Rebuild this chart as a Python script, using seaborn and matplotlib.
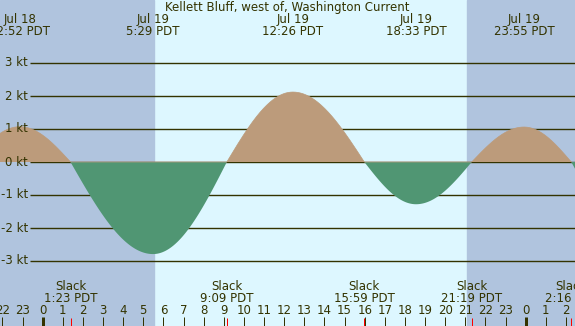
import numpy as np
import pandas as pd
import matplotlib
matplotlib.use("Agg")
import matplotlib.pyplot as plt
import seaborn as sns

# events (hours from Jul 19 00:00 PDT), values in knots
# first and last entries lie outside the visible window, only for drawing the curve ends
event_hours = [-3.6, -1.133, 1.383, 5.483, 9.15, 12.433, 15.983, 18.55, 21.317, 23.917, 26.267, 29.8]
event_kt = [0.0, 1.07, 0.0, -2.79, 0.0, 2.12, 0.0, -1.28, 0.0, 1.06, 0.0, -2.5]

# labelled maxima at the top
max_hours = [-1.133, 5.483, 12.433, 18.55, 23.917]
max_dates = ["Jul 18", "Jul 19", "Jul 19", "Jul 19", "Jul 19"]
max_times = ["22:52 PDT", "5:29 PDT", "12:26 PDT", "18:33 PDT", "23:55 PDT"]

# slack labels at the bottom
slack_hours = [1.383, 9.15, 15.983, 21.317, 26.267]
slack_times = ["1:23 PDT", "9:09 PDT", "15:59 PDT", "21:19 PDT", "2:16 PDT"]

sunrise = 5.52
sunset = 21.07
kt_levels = [3, 2, 1, 0, -1, -2, -3]
title = "Kellett Bluff, west of, Washington Current"

NIGHT = "#b0c4de"
DAY = "#ddf7ff"
FLOOD = "#bc9b7b"
EBB = "#509673"
INK = "#333300"

X0, X1 = -2.12, 26.45
def py(ypx):
    # pixel row -> knots (0 kt at row 162, 33 px per knot)
    return (162 - ypx) / 33.0

# smooth curve between events: quarter sine from slack to max and back
t_list, v_list = [], []
for i in range(len(event_hours) - 1):
    ta, tb = event_hours[i], event_hours[i + 1]
    va, vb = event_kt[i], event_kt[i + 1]
    s = np.linspace(0, 1, 80)
    if va == 0:
        v = vb * np.sin(np.pi / 2 * s)
    else:
        v = va * np.cos(np.pi / 2 * s)
    t_list.append(ta + (tb - ta) * s)
    v_list.append(v)
curve = pd.DataFrame({"hour": np.concatenate(t_list), "kt": np.concatenate(v_list)})

fig = plt.figure(figsize=(5.75, 3.26), dpi=100)
ax = fig.add_axes([0, 0, 1, 1])
ax.set_xlim(X0, X1)
ax.set_ylim(py(326), py(0))
ax.axis("off")

ax.axvspan(X0, X1, color=DAY, zorder=0)
ax.axvspan(X0, sunrise, color=NIGHT, zorder=0.5)
ax.axvspan(sunset, X1, color=NIGHT, zorder=0.5)

# grid lines under the fill
for k in kt_levels:
    ax.hlines(k, -0.62, X1, color=INK, lw=1.0, zorder=1)

h = curve["hour"].values
v = curve["kt"].values
ax.fill_between(h, v, 0, where=v >= 0, interpolate=True, color=FLOOD, lw=0, zorder=2)
ax.fill_between(h, v, 0, where=v <= 0, interpolate=True, color=EBB, lw=0, zorder=2)
sns.lineplot(data=curve[curve.kt >= 0], x="hour", y="kt", ax=ax, color=FLOOD, lw=0.5,
             zorder=2, sort=False, estimator=None)

fs = 8.5
for k in kt_levels:
    ax.text((28 - 42.7) / 20.125, k, f"{k} kt", ha="right", va="center",
            fontsize=fs, color=INK, zorder=3)

ax.text((X0 + X1) / 2, py(7.5), title, ha="center", va="center", fontsize=fs, color=INK)
for hh, d, tm in zip(max_hours, max_dates, max_times):
    ax.text(hh, py(19.5), d, ha="center", va="center", fontsize=fs, color=INK)
    ax.text(hh, py(31.5), tm, ha="center", va="center", fontsize=fs, color=INK)

for hh, tm in zip(slack_hours, slack_times):
    ax.text(hh, py(287), "Slack", ha="center", va="center", fontsize=fs, color=INK)
    ax.text(hh, py(299), tm, ha="center", va="center", fontsize=fs, color=INK)

# hour ticks and labels
for hr in range(-2, 27):
    lw = 3.0 if hr % 24 == 0 else 1.0
    ax.vlines(hr, py(326), py(317), color=INK, lw=lw * 0.72, zorder=3)
    ax.text(hr, py(311), str(hr % 24), ha="center", va="center", fontsize=fs, color=INK)
for hh in slack_hours:
    ax.vlines(hh, py(326), py(318), color="red", lw=0.72, zorder=3)

fig.savefig("out.png", dpi=100)
